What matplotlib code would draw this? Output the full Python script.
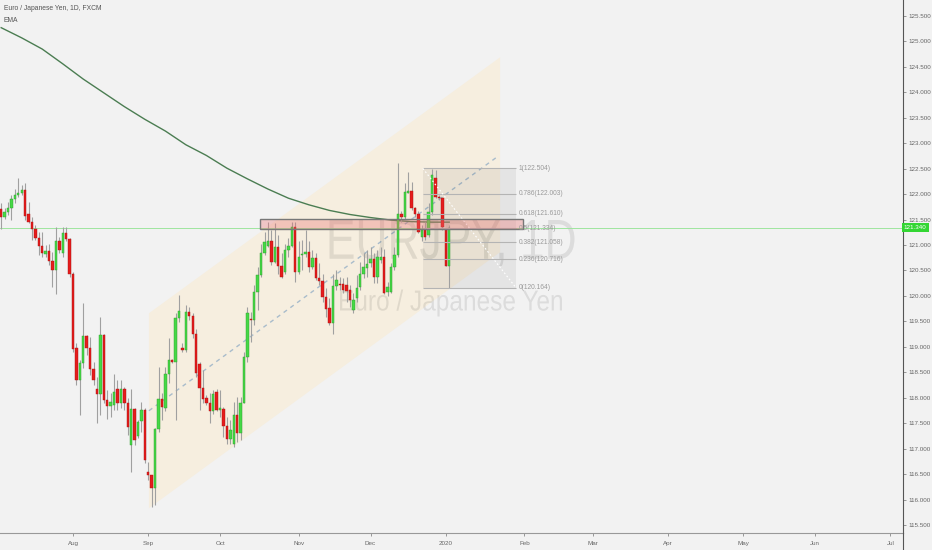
import numpy as np
import pandas as pd
import matplotlib
matplotlib.use("Agg")
import matplotlib.pyplot as plt
from matplotlib import transforms
from matplotlib.patches import Rectangle, Polygon, PathPatch
from matplotlib.textpath import TextPath
from matplotlib.font_manager import FontProperties

plt.rcParams['font.family'] = ['Liberation Sans', 'DejaVu Sans']

# daily EURJPY candles, first bar on 2019-07-03 (business days)
first_day = "2019-07-03"
opens = [121.70, 121.56, 121.64, 121.72, 121.90, 121.98, 122.02, 122.09, 121.61, 121.46,
         121.31, 121.14, 120.98, 120.82, 120.88, 120.69, 120.50, 121.08, 120.84, 121.23,
         121.11, 120.44, 118.97, 118.34, 118.68, 119.21, 118.98, 118.56, 118.18, 118.07,
         119.23, 117.95, 117.84, 117.85, 118.18, 117.90, 118.18, 117.90, 117.07, 117.77,
         117.25, 117.55, 117.76, 116.55, 116.48, 116.22, 117.38, 117.97, 117.80, 118.46,
         118.74, 118.71, 119.56, 118.98, 118.94, 119.68, 119.61, 119.26, 118.66, 118.20,
         117.99, 117.90, 117.74, 118.12, 117.76, 117.77, 117.44, 117.18, 117.10, 117.66,
         117.31, 117.90, 118.81, 119.54, 119.53, 120.08, 120.41, 120.84, 120.99, 121.08,
         120.67, 120.97, 120.59, 120.48, 120.91, 120.98, 121.36, 120.48, 120.80, 120.82,
         120.86, 120.57, 120.74, 120.36, 120.29, 119.97, 119.76, 119.47, 120.19, 120.23,
         120.23, 120.21, 120.12, 119.72, 119.95, 120.17, 120.44, 120.54, 120.64, 120.72,
         120.37, 120.71, 120.76, 120.08, 120.08, 120.57, 120.80, 121.61, 121.56, 122.03,
         122.06, 121.72, 121.61, 121.16, 121.30, 121.20, 121.64, 122.31, 121.95, 121.92,
         121.30, 120.59]
highs = [121.82, 121.72, 121.85, 121.98, 122.11, 122.31, 122.18, 122.21, 121.85, 121.56,
         121.39, 121.26, 121.26, 121.00, 121.03, 120.87, 121.36, 121.16, 121.36, 121.36,
         121.13, 120.48, 119.07, 118.74, 119.87, 119.23, 119.20, 118.71, 118.41, 119.59,
         119.26, 118.15, 118.09, 118.47, 118.35, 118.35, 118.22, 117.99, 118.18, 117.79,
         117.56, 117.92, 117.79, 116.74, 116.48, 117.40, 118.60, 118.09, 118.61, 119.17,
         118.77, 119.66, 120.02, 119.07, 119.82, 119.79, 119.66, 119.36, 118.71, 118.54,
         118.05, 118.09, 118.15, 118.18, 118.15, 117.82, 117.62, 117.56, 117.92, 118.02,
         118.02, 118.90, 119.79, 119.69, 120.21, 120.57, 121.03, 121.26, 121.46, 121.29,
         121.43, 121.20, 120.84, 121.03, 121.13, 121.46, 121.46, 121.07, 121.10, 121.29,
         121.07, 120.90, 120.84, 120.64, 120.44, 120.15, 119.95, 120.44, 120.51, 120.38,
         120.35, 120.38, 120.21, 120.05, 120.41, 120.67, 120.84, 120.90, 120.97, 120.84,
         120.90, 120.97, 120.93, 120.28, 120.64, 120.97, 122.62, 121.66, 122.21, 122.44,
         122.24, 121.75, 121.66, 121.39, 121.46, 121.82, 122.50, 122.47, 121.98, 121.95,
         121.33, 121.39]
lows = [121.31, 121.52, 121.59, 121.50, 121.82, 121.95, 121.98, 121.49, 121.43, 121.10,
        121.10, 120.80, 120.76, 120.76, 120.61, 120.18, 120.04, 120.84, 120.77, 121.07,
        120.38, 118.90, 118.25, 117.66, 118.58, 118.84, 118.45, 118.25, 117.50, 117.66,
        117.89, 117.59, 117.63, 117.76, 117.76, 117.79, 117.76, 117.27, 116.55, 117.07,
        117.20, 117.33, 116.72, 116.38, 115.86, 115.89, 117.33, 117.56, 117.73, 118.28,
        118.68, 117.56, 119.49, 118.90, 118.90, 119.53, 119.17, 118.41, 117.76, 117.89,
        117.86, 117.50, 117.69, 117.73, 117.63, 117.23, 117.10, 117.10, 117.04, 117.14,
        117.17, 117.89, 118.71, 119.10, 119.43, 119.72, 120.38, 120.80, 120.97, 120.61,
        120.64, 120.44, 120.35, 120.44, 120.77, 120.97, 120.28, 120.44, 120.51, 120.77,
        120.48, 120.52, 120.31, 120.21, 119.89, 119.59, 119.43, 119.26, 120.12, 120.12,
        120.05, 119.89, 119.79, 119.66, 119.89, 120.12, 120.35, 120.38, 120.57, 120.25,
        120.25, 120.64, 120.04, 119.99, 120.05, 120.51, 120.77, 121.46, 121.52, 122.02,
        121.69, 121.56, 121.23, 121.07, 121.09, 121.16, 121.59, 121.92, 121.88, 121.30,
        120.58, 120.16]
closes = [121.56, 121.64, 121.73, 121.90, 121.98, 122.02, 122.09, 121.58, 121.46, 121.31,
          121.14, 120.98, 120.85, 120.88, 120.69, 120.50, 121.08, 120.90, 121.23, 121.11,
          120.44, 118.95, 118.34, 118.68, 119.21, 118.98, 118.56, 118.34, 118.07, 119.23,
          117.95, 117.84, 117.91, 118.12, 117.89, 118.18, 117.90, 117.43, 117.77, 117.17,
          117.53, 117.76, 116.78, 116.48, 116.22, 117.38, 117.97, 117.82, 118.46, 118.74,
          118.71, 119.56, 119.71, 118.94, 119.68, 119.61, 119.26, 118.49, 118.20, 117.97,
          117.90, 117.74, 118.07, 117.76, 117.80, 117.44, 117.18, 117.36, 117.66, 117.31,
          117.90, 118.81, 119.66, 119.52, 120.08, 120.41, 120.84, 121.05, 121.08, 120.67,
          120.97, 120.59, 120.38, 120.91, 120.98, 121.36, 120.48, 120.77, 120.82, 120.86,
          120.57, 120.74, 120.36, 120.29, 119.97, 119.74, 119.47, 120.19, 120.31, 120.21,
          120.12, 120.10, 119.92, 119.93, 120.15, 120.44, 120.56, 120.62, 120.72, 120.37,
          120.77, 120.76, 120.05, 120.18, 120.57, 120.80, 121.61, 121.56, 122.05, 122.06,
          121.73, 121.61, 121.26, 121.30, 121.16, 121.64, 122.38, 121.95, 121.92, 121.36,
          120.59, 121.34]

# EMA at every 6th bar
ema_pos = [0, 6, 12, 18, 24, 30, 36, 42, 48, 54, 60, 66, 72, 78, 84, 90, 96, 102, 108, 114, 120, 126, 131]
ema_vals = [125.27, 125.07, 124.85, 124.56, 124.26, 123.99, 123.72, 123.47, 123.24, 122.97, 122.76, 122.51,
            122.30, 122.10, 121.92, 121.79, 121.68, 121.60, 121.54, 121.49, 121.46, 121.45, 121.45]

# drawings (bar positions / prices)
chan_x = [43.2, 145.9]
chan_lower = [115.83, 120.86]
chan_width = 3.83
zone_x = [75.7, 152.6]
zone_price = [121.32, 121.52]
fib_x = [123.3, 150.5]
fib_high, fib_low = 122.504, 120.164
fib_ratios = [1, 0.786, 0.618, 0.5, 0.382, 0.236, 0]

W, H = 932, 550
bg = '#f2f2f2'

fig = plt.figure(figsize=(W / 100, H / 100), dpi=100, facecolor=bg)
ax = fig.add_axes([0, 17 / H, 903 / W, 533 / H], facecolor=bg)

n = len(opens)
x = np.arange(n)
o = np.array(opens); c = np.array(closes); hi = np.array(highs); lo = np.array(lows)

# channel
cx0, cx1 = chan_x
chan = Polygon([(cx0, chan_lower[0]), (cx1, chan_lower[1]),
                (cx1, chan_lower[1] + chan_width), (cx0, chan_lower[0] + chan_width)],
               closed=True, fc='#f6eedf', ec='none', zorder=1)
ax.add_patch(chan)
ax.plot([cx0, cx1 - 1], [chan_lower[0] + chan_width / 2,
                         chan_lower[1] + chan_width / 2 - (chan_lower[1] - chan_lower[0]) / (cx1 - cx0)],
        color='#a9bccb', lw=1, ls=(0, (3, 3)), zorder=2)


# watermark
def stretched_text(s, cx, cy, wpx, hpx, z):
    tp = TextPath((0, 0), s, size=1, prop=FontProperties(family='Liberation Sans'))
    ext = tp.get_extents()
    tr = (transforms.Affine2D()
          .translate(-(ext.x0 + ext.width / 2), -(ext.y0 + ext.height / 2))
          .scale(wpx / ext.width / W, hpx / ext.height / H)
          .translate(cx / W, 1 - cy / H)) + fig.transFigure
    p = PathPatch(tp, transform=tr, fc='black', ec='none', alpha=0.09, zorder=z)
    ax.add_patch(p)


stretched_text("EURJPY, 1D", 452, 243, 245, 46, 2.5)
stretched_text("Euro / Japanese Yen", 451, 303, 222, 27, 2.5)

# fib shading
fx0, fx1 = fib_x
ax.add_patch(Rectangle((fx0, fib_low), fx1 - fx0, fib_high - fib_low,
                       fc='black', alpha=0.055, ec='none', zorder=2.6))

# last price line
ax.axhline(closes[-1], color='#9fe59f', lw=0.7, zorder=2.7)

# EMA
ax.plot(ema_pos, ema_vals, color='#4b7d52', lw=1.0, zorder=3)

# candles
up = c >= o
ax.vlines(x, lo, hi, color='#a0a0a0', lw=0.8, zorder=4)
body_lo = np.minimum(o, c)
body_h = np.maximum(np.abs(c - o), 0.02)
ax.bar(x[up], body_h[up], 0.7, bottom=body_lo[up], color='#46d846', edgecolor='#2c9b2c', lw=0.3, zorder=5)
ax.bar(x[~up], body_h[~up], 0.7, bottom=body_lo[~up], color='#e61c1c', edgecolor='#a51212', lw=0.3, zorder=5)

# fib levels
levels = [fib_low + (fib_high - fib_low) * r for r in fib_ratios]
ax.hlines(levels, fx0, fx1, color='#b4b4b4', lw=0.8, zorder=6)
ax.plot([fx0, fx1], [fib_high, fib_low], color='white', lw=0.8, ls=(0, (1.5, 2)), zorder=6)
for r, lv in zip(fib_ratios, levels):
    ax.text(fx1 + 0.9, lv, f"{r:g}({lv:.3f})", fontsize=4.8, color='#9a9a9a',
            ha='left', va='center', zorder=7)

# resistance zone
zx0, zx1 = zone_x
ax.add_patch(Rectangle((zx0, zone_price[0]), zx1 - zx0, zone_price[1] - zone_price[0],
                       fc=(0.92, 0.45, 0.45, 0.35), ec='#777777', lw=1, zorder=6.5))

# axes
ax.set_xlim(-0.35, 263.7)
ax.set_ylim(115.343, 125.814)

days = pd.bdate_range(first_day, periods=280)
tick_pos, tick_lab = [], []
for k in range(1, len(days)):
    if days[k].month != days[k - 1].month:
        tick_pos.append(k)
        tick_lab.append(str(days[k].year) if days[k].month == 1 else days[k].strftime('%b'))
ax.set_xticks(tick_pos)
ax.set_xticklabels(tick_lab)

yt = np.arange(115.5, 125.51, 0.5)
ax.yaxis.tick_right()
ax.set_yticks(yt)
ax.set_yticklabels([f"{v:.3f}" for v in yt])

ax.tick_params(axis='y', direction='out', length=2.5, width=0.6, color='#888888',
               labelsize=4.5, labelcolor='#666666', pad=1.5)
ax.tick_params(axis='x', direction='out', length=2, width=0.6, color='#888888',
               labelsize=4.5, labelcolor='#666666', pad=3.5)
for side in ['top', 'left']:
    ax.spines[side].set_visible(False)
ax.spines['right'].set_color('#555555')
ax.spines['right'].set_linewidth(0.8)
ax.spines['bottom'].set_color('#999999')
ax.spines['bottom'].set_linewidth(0.8)
fig.add_artist(plt.Line2D([903 / W, 903 / W], [0, 17 / H], color='#555555', lw=0.8))

# price label
ax.text(1.001, closes[-1], f"{closes[-1]:.3f}", transform=transforms.blended_transform_factory(ax.transAxes, ax.transData),
        ha='left', va='center', fontsize=4.5, color='white', clip_on=False, zorder=10,
        bbox=dict(boxstyle='square,pad=0.35', fc='#33d633', ec='none'))

# header
fig.text(4 / W, 1 - 8 / H, "Euro / Japanese Yen, 1D, FXCM", fontsize=4.9, color='#555555', va='center')
fig.text(4 / W, 1 - 20 / H, "EMA", fontsize=4.9, color='#555555', va='center')

fig.savefig("out.png", dpi=100, facecolor=bg)
